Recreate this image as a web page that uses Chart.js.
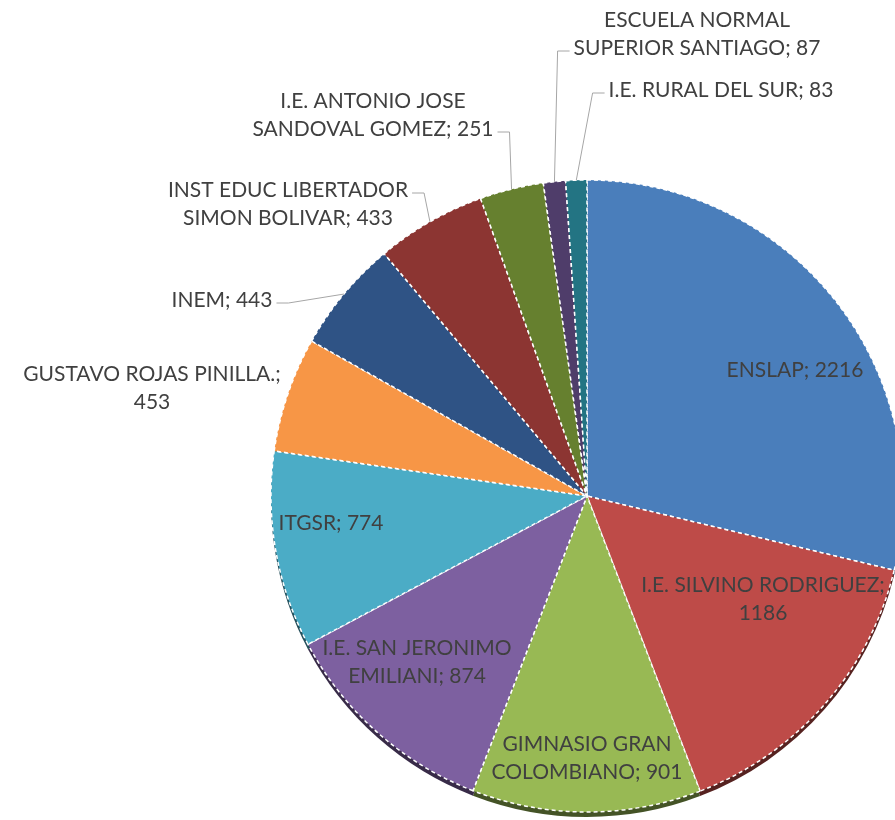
<!DOCTYPE html>
<html><head><meta charset="utf-8">
<script src="https://cdn.jsdelivr.net/npm/chart.js@4.4.0/dist/chart.umd.min.js"></script>
<style>
html,body{margin:0;padding:0;background:#fff;overflow:hidden;width:895px;height:820px}
#wrap{position:absolute;left:0;top:0}
</style></head>
<body><div id="wrap"><canvas id="c" width="1174" height="992"></canvas></div>
<script>
// ---- data ----
const categories = ['ENSLAP','I.E. SILVINO RODRIGUEZ','GIMNASIO GRAN COLOMBIANO','I.E. SAN JERONIMO EMILIANI','ITGSR','GUSTAVO ROJAS PINILLA.','INEM','INST EDUC LIBERTADOR SIMON BOLIVAR','I.E. ANTONIO JOSE SANDOVAL GOMEZ','ESCUELA NORMAL SUPERIOR SANTIAGO','I.E. RURAL DEL SUR'];
const values = [2216,1186,901,874,774,453,443,433,251,87,83];
const firstLineWords = [0,3,2,3,0,3,0,3,3,2,0];
const colors = ['#4A7EBB','#BE4B48','#98B954','#7D60A0','#4BACC6','#F79646','#2F5385','#8C3532','#66802F','#4F3D6A','#237483'];

// ---- label layout (offsets from pie centre) ----
const labelPos = [[208,-126],[176,103],[0,262],[-170,166],[-256,27],[-435,-108],[-365,-196],[-299,-292],[-214,-381],[110,-462],[134,-406]];
const leaders = [null,null,null,null,null,null,{line:0,side:1},{line:0,side:1},{line:1,side:1},{line:1,side:-1},{line:0,side:-1}];
const FONT = '21px Lato';
const LH = 28;

function labelLines(i){
  const words = (categories[i] + '; ' + values[i]).split(' ');
  const n = firstLineWords[i];
  if(!n) return [words.join(' ')];
  return [words.slice(0,n).join(' '), words.slice(n).join(' ')];
}
function shade(hex, f){
  const v = parseInt(hex.slice(1),16);
  const r = Math.round(((v>>16)&255)*f), g = Math.round(((v>>8)&255)*f), b = Math.round((v&255)*f);
  return 'rgb('+r+','+g+','+b+')';
}

const bevelPlugin = {
  id:'bevel',
  beforeDatasetsDraw(chart){
    const ctx = chart.ctx;
    const arcs = chart.getDatasetMeta(0).data;
    ctx.save();
    arcs.forEach((arc,i)=>{
      ctx.beginPath();
      ctx.moveTo(arc.x, arc.y+5);
      ctx.arc(arc.x, arc.y+5, arc.outerRadius, arc.startAngle, arc.endAngle);
      ctx.closePath();
      ctx.fillStyle = shade(colors[i], 0.45);
      ctx.fill();
    });
    ctx.restore();
  }
};

const labelPlugin = {
  id:'pieLabels',
  afterDatasetsDraw(chart){
    const ctx = chart.ctx;
    const arcs = chart.getDatasetMeta(0).data;
    ctx.save();
    ctx.font = FONT;
    ctx.fillStyle = '#404040';
    ctx.strokeStyle = '#A6A6A6';
    ctx.lineWidth = 1;
    ctx.textAlign = 'center';
    ctx.textBaseline = 'middle';
    arcs.forEach((arc,i)=>{
      const lines = labelLines(i);
      const n = lines.length;
      const cx = arc.x + labelPos[i][0], cy = arc.y + labelPos[i][1];
      lines.forEach((t,k)=> ctx.fillText(t, cx, cy + (k-(n-1)/2)*LH));
      const ld = leaders[i];
      if(ld){
        const ly = cy + (ld.line-(n-1)/2)*LH + 3;
        const w = ctx.measureText(lines[ld.line]).width;
        const sx = ld.side>0 ? cx + w/2 + 4 : cx - w/2 - 4;
        const ex = sx + ld.side*12;
        const mid = (arc.startAngle+arc.endAngle)/2;
        const px = arc.x + Math.cos(mid)*arc.outerRadius;
        const py = arc.y + Math.sin(mid)*arc.outerRadius;
        ctx.beginPath();
        ctx.moveTo(sx, ly); ctx.lineTo(ex, ly); ctx.lineTo(px, py);
        ctx.stroke();
      }
    });
    ctx.restore();
  }
};

function build(){
  new Chart(document.getElementById('c'), {
    type:'pie',
    data:{
      labels: categories,
      datasets:[{
        data: values,
        backgroundColor: colors,
        borderColor:'#ffffff',
        borderWidth:1.5,
        borderDash:[4,3]
      }]
    },
    options:{
      responsive:false,
      animation:false,
      radius:316,
      layout:{padding:{left:271,right:271,top:180,bottom:180}},
      plugins:{legend:{display:false},tooltip:{enabled:false}}
    },
    plugins:[bevelPlugin,labelPlugin]
  });
}
if(document.fonts && document.fonts.load){
  document.fonts.load(FONT).then(build, build);
} else build();
</script>
</body></html>
